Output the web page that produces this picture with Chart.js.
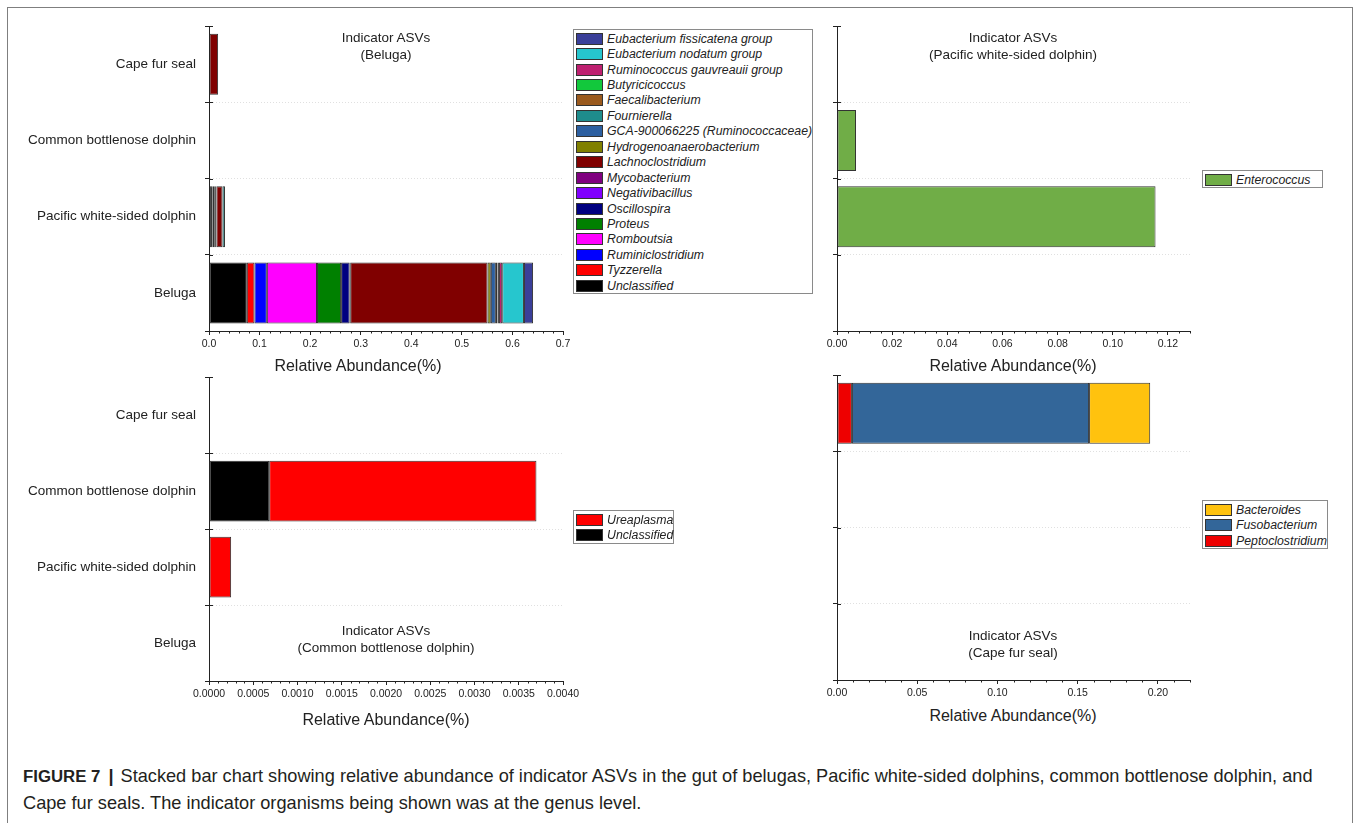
<!DOCTYPE html>
<html>
<head>
<meta charset="utf-8">
<script src="https://cdn.jsdelivr.net/npm/chart.js@4.4.1/dist/chart.umd.min.js"></script>
<style>
  html, body { margin: 0; padding: 0; background: #fff; }
  body { width: 1354px; height: 823px; overflow: hidden; position: relative;
         font-family: "Liberation Sans", Arial, sans-serif; color: #222; }
  .frame { position: absolute; left: 7px; top: 7px; width: 1344px; height: 840px;
           border: 1px solid #7f7f7f; border-bottom: none; }
  .panel { position: absolute; }
  .note { position: absolute; font-size: 13.5px; line-height: 17px; text-align: center;
          transform: translateX(-50%); white-space: nowrap; color: #222; }
  .axt { position: absolute; font-size: 16px; line-height: 18px; transform: translate(-50%, -50%);
         white-space: nowrap; color: #222; }
  .legend { position: absolute; box-sizing: border-box; border: 1px solid #8a8a8a; background: #fff;
            padding-top: 1px; }
  .legend .row { display: flex; align-items: center; height: 15.45px; }
  .legend .sw { box-sizing: border-box; width: 27px; height: 12px; border: 1px solid #333;
                margin: 0 4.5px 0 1.5px; flex: none; }
  .legend .lb { font-style: italic; font-size: 12.3px; white-space: nowrap; color: #222; }
  .caption { position: absolute; left: 23px; top: 763px; font-size: 18.2px; line-height: 27px;
             color: #231f20; white-space: nowrap; }
  .caption b { font-weight: bold; font-size: 16.8px; }
  .caption .sep { font-weight: bold; margin: 0 7px 0 8px; }
</style>
</head>
<body>
<div class="frame"></div>

<div class="panel" style="left:0;top:0"><canvas id="cBeluga" width="600" height="360"></canvas></div>
<div class="panel" style="left:620px;top:0"><canvas id="cPacific" width="600" height="360"></canvas></div>
<div class="panel" style="left:0;top:360px"><canvas id="cCommon" width="600" height="340"></canvas></div>
<div class="panel" style="left:620px;top:360px"><canvas id="cCape" width="600" height="340"></canvas></div>

<div class="note" style="left:386px;top:29px">Indicator ASVs<br>(Beluga)</div>
<div class="note" style="left:1013px;top:29px">Indicator ASVs<br>(Pacific white-sided dolphin)</div>
<div class="note" style="left:386px;top:622px">Indicator ASVs<br>(Common bottlenose dolphin)</div>
<div class="note" style="left:1013px;top:627px">Indicator ASVs<br>(Cape fur seal)</div>

<div class="axt" style="left:358px;top:366px">Relative Abundance(%)</div>
<div class="axt" style="left:1013px;top:366px">Relative Abundance(%)</div>
<div class="axt" style="left:386px;top:720px">Relative Abundance(%)</div>
<div class="axt" style="left:1013px;top:716px">Relative Abundance(%)</div>

<div class="legend" id="lgBeluga" style="left:573px;top:29px;width:240px;height:265px"></div>
<div class="legend" id="lgPacific" style="left:1202px;top:170px;width:121px;height:18px"></div>
<div class="legend" id="lgCommon" style="left:573px;top:510px;width:101px;height:34px"></div>
<div class="legend" id="lgCape" style="left:1202px;top:500px;width:126px;height:49px"></div>

<div class="caption"><b>FIGURE 7</b><span class="sep">|</span>Stacked bar chart showing relative abundance of indicator ASVs in the gut of belugas, Pacific white-sided dolphins, common bottlenose dolphin, and<br>Cape fur seals. The indicator organisms being shown was at the genus level.</div>

<script>
// Host groups, listed top to bottom on every panel
const hosts = ['Cape fur seal', 'Common bottlenose dolphin', 'Pacific white-sided dolphin', 'Beluga'];

// ---- Beluga indicator genera (stack order, left to right) ----
const belugaGenera = [
  'Unclassified', 'Tyzzerella', 'Ruminiclostridium', 'Romboutsia', 'Proteus', 'Oscillospira',
  'Negativibacillus', 'Mycobacterium', 'Lachnoclostridium', 'Hydrogenoanaerobacterium',
  'GCA-900066225 (Ruminococcaceae)', 'Fournierella', 'Faecalibacterium', 'Butyricicoccus',
  'Ruminococcus gauvreauii group', 'Eubacterium nodatum group', 'Eubacterium fissicatena group'
];
const belugaColors = [
  '#000000', '#ff0000', '#0000ff', '#ff00ff', '#008000', '#000080',
  '#8000ff', '#800080', '#800000', '#808000',
  '#2c5fa0', '#1e8c8c', '#9a5a1e', '#12c83c',
  '#be2070', '#26c6ce', '#3a3f99'
];
// values per host: [Cape fur seal, Common bottlenose, Pacific white-sided, Beluga]
const unclassifiedB   = [0, 0, 0.0073, 0.0748];
const tyzzerella      = [0, 0, 0, 0.0150];
const ruminiclostrid  = [0, 0, 0, 0.0246];
const romboutsia      = [0, 0, 0.0030, 0.0992];
const proteus         = [0, 0, 0.0018, 0.0476];
const oscillospira    = [0, 0, 0.0020, 0.0170];
const negativibac     = [0, 0, 0, 0.0005];
const mycobacterium   = [0, 0, 0.0005, 0.0005];
const lachnoclostrid  = [0.0180, 0, 0.0120, 0.2716];
const hydrogenoanaer  = [0, 0, 0, 0.0065];
const gca900066225    = [0, 0, 0, 0.0100];
const fournierella    = [0, 0, 0.0050, 0.0030];
const faecalibact     = [0, 0, 0, 0.0010];
const butyricicoccus  = [0, 0, 0, 0.0020];
const ruminococcusG   = [0, 0, 0, 0.0065];
const eubactNodatum   = [0, 0, 0, 0.0430];
const eubactFissicat  = [0, 0, 0, 0.0180];
const belugaValues = [
  unclassifiedB, tyzzerella, ruminiclostrid, romboutsia, proteus, oscillospira,
  negativibac, mycobacterium, lachnoclostrid, hydrogenoanaer, gca900066225, fournierella,
  faecalibact, butyricicoccus, ruminococcusG, eubactNodatum, eubactFissicat
];

// ---- Pacific white-sided dolphin indicator genera ----
const pacificGenera = ['Enterococcus'];
const pacificColors = ['#70ad47'];
const enterococcus  = [0, 0.0069, 0.1155, 0];
const pacificValues = [enterococcus];

// ---- Common bottlenose dolphin indicator genera ----
const commonGenera = ['Unclassified', 'Ureaplasma'];
const commonColors = ['#000000', '#ff0000'];
const unclassifiedC = [0, 0.00068, 0, 0.00001];
const ureaplasma    = [0, 0.00302, 0.00025, 0];
const commonValues  = [unclassifiedC, ureaplasma];

// ---- Cape fur seal indicator genera ----
const capeGenera = ['Peptoclostridium', 'Fusobacterium', 'Bacteroides'];
const capeColors = ['#ee0000', '#336699', '#ffc20e'];
const peptoclostridium = [0.0093, 0, 0, 0];
const fusobacterium    = [0.1478, 0, 0, 0];
const bacteroides      = [0.0381, 0, 0, 0];
const capeValues = [peptoclostridium, fusobacterium, bacteroides];

// ---- x-axis tick settings per panel ----
const belugaTicks  = { max: 0.7,   step: 0.1,    decimals: 1 };
const pacificTicks = { max: 0.128, step: 0.02,   decimals: 2 };
const commonTicks  = { max: 0.004, step: 0.0005, decimals: 4 };
const capeTicks    = { max: 0.22,  step: 0.05,   decimals: 2 };

Chart.defaults.font.family = '"Liberation Sans", Arial, sans-serif';
Chart.defaults.color = '#222';

// Minor ticks on the value axis and inner arms of the host-boundary ticks
const extraTicks = {
  id: 'extraTicks',
  afterDraw(chart) {
    const { ctx, chartArea: a, scales: { x, y } } = chart;
    const minor = chart.options.scales.x.ticks.stepSize / 5;
    ctx.save();
    ctx.strokeStyle = '#222';
    ctx.lineWidth = 1;
    ctx.beginPath();
    const n = Math.round(x.max / minor + 1e-6);
    for (let i = 1; i <= n; i++) {
      if (i % 5 === 0) continue;
      const px = Math.round(x.getPixelForValue(i * minor)) + 0.5;
      ctx.moveTo(px, a.bottom);
      ctx.lineTo(px, a.bottom + 2.5);
    }
    for (let i = 0; i < y.ticks.length; i++) {
      const py = Math.round(y.getPixelForValue(i - 0.5)) + 0.5;
      ctx.moveTo(a.left, py);
      ctx.lineTo(a.left + 4, py);
    }
    ctx.stroke();
    ctx.restore();
  }
};

function buildPanel(id, genera, colors, values, tk, showHosts, area) {
  const canvas = document.getElementById(id);
  const W = canvas.width, H = canvas.height;
  const datasets = genera.map((g, i) => ({
    label: g,
    data: values[i],
    backgroundColor: colors[i],
    borderColor: '#333333',
    borderWidth: 1,
    borderSkipped: false,
    barPercentage: 0.8,
    categoryPercentage: 1.0
  }));
  return new Chart(canvas, {
    type: 'bar',
    data: { labels: hosts, datasets },
    plugins: [extraTicks],
    options: {
      indexAxis: 'y',
      responsive: false,
      animation: false,
      events: [],
      layout: { padding: { left: 0, top: area.top, right: W - area.right, bottom: 0 } },
      plugins: { legend: { display: false }, tooltip: { enabled: false } },
      scales: {
        x: {
          type: 'linear', stacked: true, min: 0, max: tk.max,
          grid: { drawOnChartArea: false, drawTicks: true, tickLength: 4, tickColor: '#222', tickWidth: 1 },
          border: { display: true, color: '#222', width: 1 },
          ticks: {
            stepSize: tk.step, includeBounds: false, autoSkip: false, maxRotation: 0, minRotation: 0,
            padding: 3, color: '#222', font: { size: 10.5 },
            callback: v => Number(v).toFixed(tk.decimals)
          },
          afterFit: s => { s.height = H - area.bottom; }
        },
        y: {
          type: 'category', stacked: true, offset: true,
          grid: {
            offset: true, drawTicks: true, tickLength: 4, tickColor: '#222', tickWidth: 1,
            color: c => (c.index === 0 ? 'rgba(0,0,0,0)' : 'rgba(0,0,0,0.12)'), lineWidth: 1
          },
          border: { display: true, color: '#222', width: 1, dash: [1, 2] },
          ticks: { display: showHosts, padding: 9, color: '#222', font: { size: 13.5 } },
          afterFit: s => { s.width = area.left; }
        }
      }
    }
  });
}

function buildLegend(id, genera, colors) {
  const box = document.getElementById(id);
  for (let i = genera.length - 1; i >= 0; i--) {
    const row = document.createElement('div');
    row.className = 'row';
    const sw = document.createElement('div');
    sw.className = 'sw';
    sw.style.background = colors[i];
    const lb = document.createElement('div');
    lb.className = 'lb';
    lb.textContent = genera[i];
    row.appendChild(sw);
    row.appendChild(lb);
    box.appendChild(row);
  }
}

buildPanel('cBeluga',  belugaGenera,  belugaColors,  belugaValues,  belugaTicks,  true,  { left: 209, top: 26, right: 563, bottom: 331 });
buildPanel('cPacific', pacificGenera, pacificColors, pacificValues, pacificTicks, false, { left: 217, top: 26, right: 570, bottom: 331 });
buildPanel('cCommon',  commonGenera,  commonColors,  commonValues,  commonTicks,  true,  { left: 209, top: 15, right: 563, bottom: 321 });
buildPanel('cCape',    capeGenera,    capeColors,    capeValues,    capeTicks,    false, { left: 217, top: 15, right: 570, bottom: 320 });

buildLegend('lgBeluga',  belugaGenera,  belugaColors);
buildLegend('lgPacific', pacificGenera, pacificColors);
buildLegend('lgCommon',  commonGenera,  commonColors);
buildLegend('lgCape',    capeGenera,    capeColors);
</script>
</body>
</html>
